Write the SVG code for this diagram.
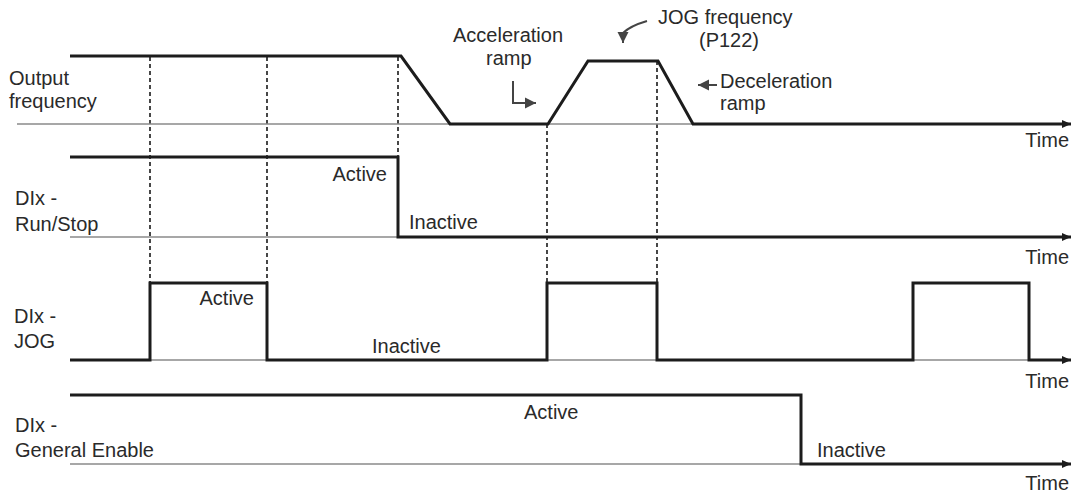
<svg xmlns="http://www.w3.org/2000/svg" width="1079" height="498" viewBox="0 0 1079 498">
<style>
  text { font-family: "Liberation Sans", Arial, sans-serif; font-size: 20px; fill: #2a2a2a; }
  .sig { fill: none; stroke: #1c1c1c; stroke-width: 3; stroke-linejoin: miter; }
  .base { fill: none; stroke: #8a8a8a; stroke-width: 1.6; }
  .dot { fill: none; stroke: #333; stroke-width: 1.8; stroke-dasharray: 4 3; }
  .ann { fill: none; stroke: #444; stroke-width: 2; }
</style>
<defs>
  <marker id="axis" markerWidth="10" markerHeight="10" refX="9" refY="5" orient="auto" markerUnits="userSpaceOnUse">
    <path d="M0,1 L9,5 L0,9 Z" fill="#1c1c1c"/>
  </marker>
  <marker id="ah" markerWidth="14" markerHeight="12" refX="11" refY="6" orient="auto" markerUnits="userSpaceOnUse">
    <path d="M0,0.5 L11,6 L0,11.5 Z" fill="#444"/>
  </marker>
</defs>

<g id="connectors">
  <line class="dot" x1="150" y1="57" x2="150" y2="283"/>
  <line class="dot" x1="267" y1="57" x2="267" y2="283"/>
  <line class="dot" x1="398" y1="57" x2="398" y2="157"/>
  <line class="dot" x1="547" y1="124" x2="547" y2="283"/>
  <line class="dot" x1="657" y1="61" x2="657" y2="283"/>
  <path class="ann" d="M647,21 Q630,26 623,33 L623,43" marker-end="url(#ah)"/>
  <path class="ann" d="M513,81 L513,103 L536,103" marker-end="url(#ah)"/>
  <path class="ann" d="M717,85 L698,85" marker-end="url(#ah)"/>
</g>

<g id="output-frequency">
  <line class="base" x1="17" y1="124" x2="1070" y2="124"/>
  <path class="sig" d="M70,56 L401,56 L450,124 L548,124 L588,61 L658,61 L693,124 L1071,124" marker-end="url(#axis)"/>
  <text x="9" y="85">Output</text>
  <text x="9" y="108">frequency</text>
  <text x="1069" y="147" text-anchor="end">Time</text>
</g>

<g id="annotations">
  <text x="453" y="42">Acceleration</text>
  <text x="486" y="65">ramp</text>
  <text x="658" y="24">JOG frequency</text>
  <text x="699" y="47">(P122)</text>
  <text x="720" y="88">Deceleration</text>
  <text x="720" y="110">ramp</text>
</g>

<g id="run-stop">
  <line class="base" x1="70" y1="237" x2="1070" y2="237"/>
  <path class="sig" d="M70,157 L398,157 L398,237 L1071,237" marker-end="url(#axis)"/>
  <text x="387" y="181" text-anchor="end">Active</text>
  <text x="409" y="229">Inactive</text>
  <text x="15" y="205">DIx -</text>
  <text x="15" y="231">Run/Stop</text>
  <text x="1069" y="264" text-anchor="end">Time</text>
</g>

<g id="jog">
  <line class="base" x1="70" y1="360" x2="1070" y2="360"/>
  <path class="sig" d="M70,360 L150,360 L150,283 L267,283 L267,360 L547,360 L547,283 L657,283 L657,360 L913,360 L913,283 L1029,283 L1029,360 L1071,360" marker-end="url(#axis)"/>
  <text x="254" y="305" text-anchor="end">Active</text>
  <text x="372" y="353">Inactive</text>
  <text x="14" y="323">DIx -</text>
  <text x="14" y="348">JOG</text>
  <text x="1069" y="388" text-anchor="end">Time</text>
</g>

<g id="general-enable">
  <line class="base" x1="70" y1="464" x2="1070" y2="464"/>
  <path class="sig" d="M70,395 L801,395 L801,464 L1071,464" marker-end="url(#axis)"/>
  <text x="524" y="419">Active</text>
  <text x="817" y="457">Inactive</text>
  <text x="15" y="432">DIx -</text>
  <text x="15" y="457">General Enable</text>
  <text x="1069" y="490" text-anchor="end">Time</text>
</g>
</svg>
